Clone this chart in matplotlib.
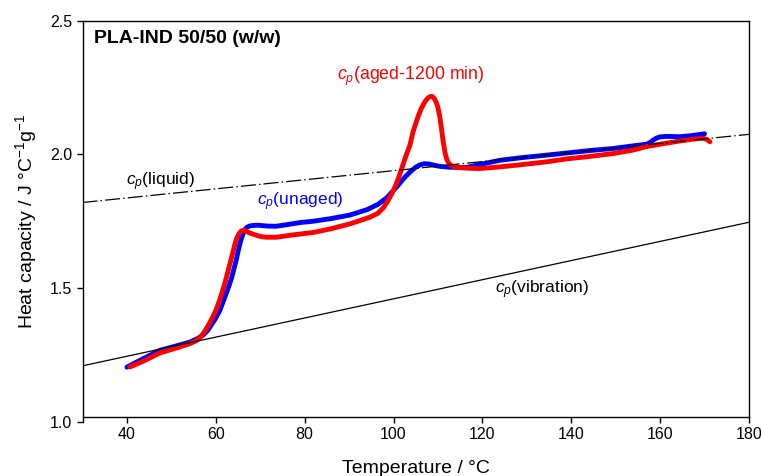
import matplotlib
matplotlib.use("Agg")
import matplotlib.pyplot as plt
import numpy as np

plt.rcParams['font.family'] = ['Liberation Sans', 'DejaVu Sans']
plt.rcParams['mathtext.fontset'] = 'custom'
plt.rcParams['mathtext.rm'] = 'Liberation Sans'
plt.rcParams['mathtext.it'] = 'Liberation Sans:italic'
plt.rcParams['mathtext.bf'] = 'Liberation Sans:bold'

# ---- data ----
unaged_T = [40.0, 43.0, 47.4, 51.0, 54.2, 56.0, 57.2, 58.2, 59.0, 60.0, 60.9, 61.6, 62.3, 63.0,
            63.6, 64.1, 64.6, 65.0, 65.4, 65.8, 66.2, 66.6, 67.0, 67.6, 68.3, 69.5, 71.5, 73.5,
            76.0, 79.0, 82.0, 86.0, 90.2, 94.0, 96.5, 98.5, 100.7, 102.3, 103.7, 105.0, 106.0,
            106.9, 108.0, 109.5, 110.5, 112.5, 116.4, 120.2, 124.0, 129.0, 134.4, 138.9, 144.0,
            149.4, 154.0, 157.0, 157.8, 158.5, 159.2, 159.9, 161.0, 162.0, 164.4, 167.0, 170.0]
unaged_cp = [1.204, 1.230, 1.267, 1.283, 1.298, 1.312, 1.325, 1.342, 1.362, 1.388, 1.416, 1.447,
             1.478, 1.510, 1.541, 1.573, 1.605, 1.636, 1.664, 1.688, 1.706, 1.719, 1.727, 1.732,
             1.734, 1.735, 1.732, 1.731, 1.737, 1.745, 1.750, 1.760, 1.773, 1.793, 1.813, 1.838,
             1.878, 1.910, 1.934, 1.952, 1.961, 1.965, 1.964, 1.958, 1.955, 1.952, 1.951, 1.965,
             1.978, 1.988, 1.997, 2.005, 2.014, 2.022, 2.032, 2.038, 2.045, 2.054, 2.061, 2.065,
             2.067, 2.067, 2.066, 2.070, 2.077]

aged_T = [40.7, 43.5, 47.4, 51.0, 54.2, 55.5, 56.5, 57.4, 58.3, 59.2, 60.0, 60.7, 61.3, 61.9,
          62.4, 62.9, 63.4, 63.9, 64.3, 64.7, 65.2, 65.7, 66.2, 66.8, 67.5, 68.3, 69.2, 70.3,
          71.4, 73.7, 77.0, 82.0, 86.0, 90.2, 94.7, 96.5, 97.7, 98.8, 99.9, 100.9, 101.8,
          102.7, 103.7, 104.4, 105.0, 105.6, 106.2, 106.7, 107.2, 107.7, 108.2, 108.7, 109.2,
          109.6, 110.0, 110.4, 110.8, 111.2, 111.6, 112.0, 112.5, 113.2, 114.0, 114.9, 117.0,
          119.4, 123.2, 128.0, 134.4, 138.9, 144.0, 149.4, 153.9, 156.9, 160.0, 164.4, 168.0,
          169.7, 170.5, 171.2]
aged_cp = [1.205, 1.225, 1.257, 1.275, 1.292, 1.302, 1.315, 1.335, 1.360, 1.388, 1.416, 1.447,
           1.478, 1.510, 1.541, 1.573, 1.605, 1.637, 1.664, 1.686, 1.703, 1.713, 1.716, 1.713,
           1.707, 1.702, 1.697, 1.692, 1.690, 1.690, 1.698, 1.708, 1.722, 1.740, 1.765, 1.780,
           1.800, 1.828, 1.862, 1.902, 1.945, 1.990, 2.035, 2.085, 2.115, 2.145, 2.170, 2.186,
           2.200, 2.210, 2.216, 2.217, 2.208, 2.195, 2.175, 2.142, 2.095, 2.045, 2.005, 1.980,
           1.965, 1.956, 1.952, 1.950, 1.948, 1.947, 1.952, 1.960, 1.972, 1.983, 1.992, 2.003,
           2.016, 2.029, 2.038, 2.050, 2.058, 2.060, 2.056, 2.047]

liquid_T = [30, 180]
liquid_cp = [1.820, 2.075]
vib_T = [30, 180]
vib_cp = [1.209, 1.746]

x_ticks = [40, 60, 80, 100, 120, 140, 160, 180]
y_ticks = [1.0, 1.5, 2.0, 2.5]

# ---- figure ----
fig = plt.figure(figsize=(7.62, 4.76), dpi=100)
ax = fig.add_axes([82.5/762, 1-421.7/476, (749-82.5)/762, (421.7-20.7)/476])

ax.plot(unaged_T, unaged_cp, color='#0000ff', lw=3.5, solid_capstyle='round',
        solid_joinstyle='round', zorder=3)
ax.plot(aged_T, aged_cp, color='#ff0000', lw=3.5, solid_capstyle='round',
        solid_joinstyle='round', zorder=4)
ax.plot(liquid_T, liquid_cp, color='black', lw=0.9, dashes=(12, 2.5, 1.2, 2.5), zorder=5)
ax.plot(vib_T, vib_cp, color='black', lw=0.9, zorder=5)

ax.set_xlim(30, 180)
ax.set_ylim(1.0, 2.5)
ax.set_xticks(x_ticks)
ax.set_yticks(y_ticks)
ax.set_yticklabels([f"{v:.1f}" for v in y_ticks])
ax.tick_params(direction='out', length=4.5, width=1, labelsize=11.5, pad=3)
ax.tick_params(top=False, right=False)

yb = 1.0 + 4.7/267
ax.spines['bottom'].set_position(('data', yb))
ax.spines['right'].set_bounds(yb, 2.5)
for s in ax.spines.values():
    s.set_linewidth(1.0)

ax.set_xlabel('Temperature / °C', fontsize=14)
ax.xaxis.set_label_coords(0.5, -0.095)
ax.set_ylabel(r'Heat capacity / J °C$^{-1}$g$^{-1}$', fontsize=14)
ax.yaxis.set_label_coords(-0.066, 0.5)

ax.text(32.6, 2.465, 'PLA-IND 50/50 (w/w)', fontsize=14, fontweight='bold',
        ha='left', va='top')
ax.text(39.9, 1.885, r'$c_p$(liquid)', fontsize=12.5, color='black', ha='left', va='baseline')
ax.text(69.3, 1.810, r'$c_p$(unaged)', fontsize=12.5, color='#0000ff', ha='left', va='baseline')
ax.text(87.2, 2.278, r'$c_p$(aged-1200 min)', fontsize=12.8, color='#ff0000', ha='left', va='baseline')
ax.text(122.8, 1.479, r'$c_p$(vibration)', fontsize=12.5, color='black', ha='left', va='baseline')

fig.savefig('out.png', dpi=100)
